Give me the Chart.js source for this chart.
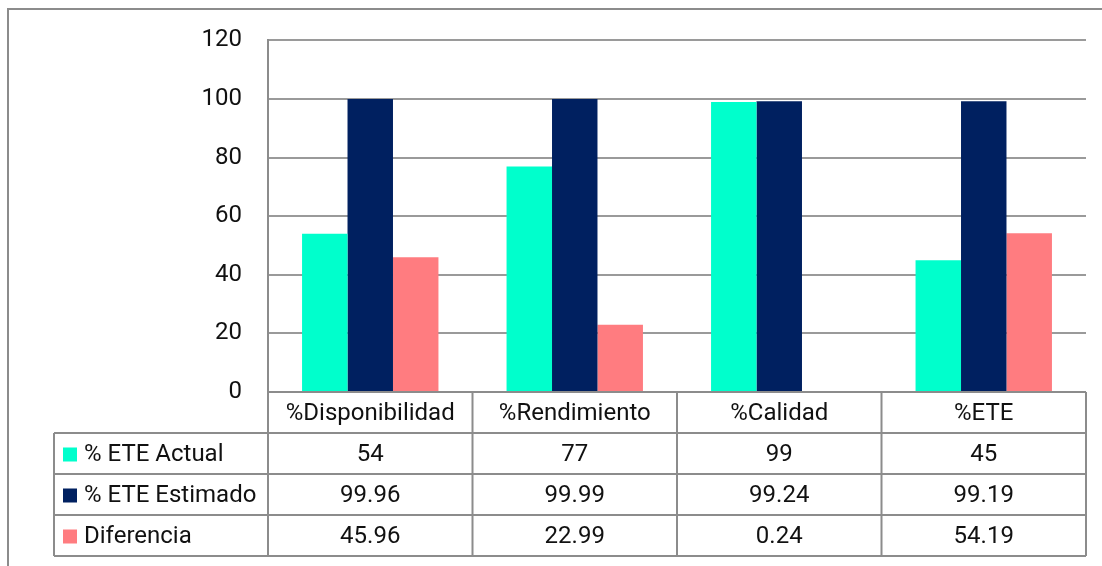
<!DOCTYPE html>
<html lang="es">
<head>
    <meta charset="UTF-8">
    <title>ETE Actual vs Estimado</title>
    <script src="https://cdn.jsdelivr.net/npm/chart.js@4.4.0/dist/chart.umd.min.js"></script>
    <style>
        body{
            margin: 0;
            background: #fff;
        }
        .wrapper{
            position: relative;
            width: 1102px;
            height: 566px;
            overflow: hidden;
        }
        .frame{
            position: absolute;
            left: 7px;
            top: 8px;
            width: 1200px;
            height: 700px;
            border-top: 2px solid #8c8c8c;
            border-left: 2px solid #8c8c8c;
            pointer-events: none;
        }
        #eteChart{
            position: absolute;
            left: 0;
            top: 0;
        }
    </style>
</head>
<body>
    <div class="wrapper">
        <canvas id="eteChart" width="1102" height="566" style="width:1102px;height:566px;"></canvas>
        <div class="frame"></div>
    </div>

<script>
    // categories and the three series (also printed in the table under the bars)
    const categories = ['%Disponibilidad', '%Rendimiento', '%Calidad', '%ETE'];
    const eteActual = [54, 77, 99, 45];
    const eteEstimado = [99.96, 99.99, 99.24, 99.19];
    const diferencia = [45.96, 22.99, 0.24, 54.19];
    const seriesNames = ['% ETE Actual', '% ETE Estimado', 'Diferencia'];
    const seriesColors = ['#00FFCC', '#002060', '#FF7C80'];

    const FONT = 'Roboto, "Liberation Sans", Arial, sans-serif';
    const LINE = '#8c8c8c';

    // data table drawn under the plot, columns follow the x scale
    const dataTable = {
        id: 'dataTable',
        afterDraw(chart) {
            const ctx = chart.ctx;
            const area = chart.chartArea;
            const xs = chart.scales.x;
            const colW = (area.right - area.left) / categories.length;
            const rowH = 41;
            const top = area.bottom;
            const bottom = top + rowH * 4;
            const labelLeft = 54;
            const sets = chart.data.datasets;

            ctx.save();
            ctx.strokeStyle = LINE;
            ctx.lineWidth = 2;
            ctx.beginPath();
            // header top line
            ctx.moveTo(area.left, top);
            ctx.lineTo(area.right, top);
            for (let r = 1; r <= 4; r++) {
                ctx.moveTo(labelLeft, top + rowH * r);
                ctx.lineTo(area.right, top + rowH * r);
            }
            for (let c = 0; c <= categories.length; c++) {
                const x = area.left + colW * c;
                ctx.moveTo(x, top);
                ctx.lineTo(x, bottom);
            }
            ctx.moveTo(labelLeft, top + rowH);
            ctx.lineTo(labelLeft, bottom);
            ctx.stroke();

            ctx.font = '24px ' + FONT;
            ctx.fillStyle = '#111';
            ctx.textBaseline = 'middle';
            ctx.textAlign = 'center';
            categories.forEach((cat, i) => {
                ctx.fillText(cat, xs.getPixelForValue(i), top + rowH / 2 + 1);
            });

            sets.forEach((ds, r) => {
                const cy = top + rowH * (r + 1) + rowH / 2 + 1;
                ctx.fillStyle = ds.backgroundColor;
                ctx.fillRect(63, cy - 7, 14, 14);
                ctx.fillStyle = '#111';
                ctx.textAlign = 'left';
                ctx.fillText(ds.label, 84, cy);
                ctx.textAlign = 'center';
                ds.data.forEach((v, i) => {
                    ctx.fillText(String(v), xs.getPixelForValue(i), cy);
                });
            });
            ctx.restore();
        }
    };

    new Chart(document.getElementById('eteChart'), {
        type: 'bar',
        data: {
            labels: categories,
            datasets: [
                { label: seriesNames[0], data: eteActual, backgroundColor: seriesColors[0] },
                { label: seriesNames[1], data: eteEstimado, backgroundColor: seriesColors[1] },
                { label: seriesNames[2], data: diferencia, backgroundColor: seriesColors[2] }
            ]
        },
        options: {
            responsive: false,
            animation: false,
            datasets: {
                bar: {
                    categoryPercentage: 0.667,
                    barPercentage: 1
                }
            },
            layout: {
                padding: { top: 39, right: 16, bottom: 174, left: 0 }
            },
            plugins: {
                legend: { display: false },
                tooltip: { enabled: false }
            },
            scales: {
                x: {
                    grid: { display: false, drawTicks: false },
                    border: { display: false },
                    ticks: { display: false },
                    afterFit(scale) { scale.height = 0; }
                },
                y: {
                    min: 0,
                    max: 120,
                    ticks: {
                        stepSize: 20,
                        padding: 26,
                        color: '#111',
                        font: { family: FONT, size: 24 }
                    },
                    grid: { color: '#9a9a9a', lineWidth: 2, drawTicks: false },
                    border: { color: LINE, width: 2 },
                    afterFit(scale) { scale.width = 268; }
                }
            }
        },
        plugins: [dataTable]
    });
</script>
</body>
</html>
